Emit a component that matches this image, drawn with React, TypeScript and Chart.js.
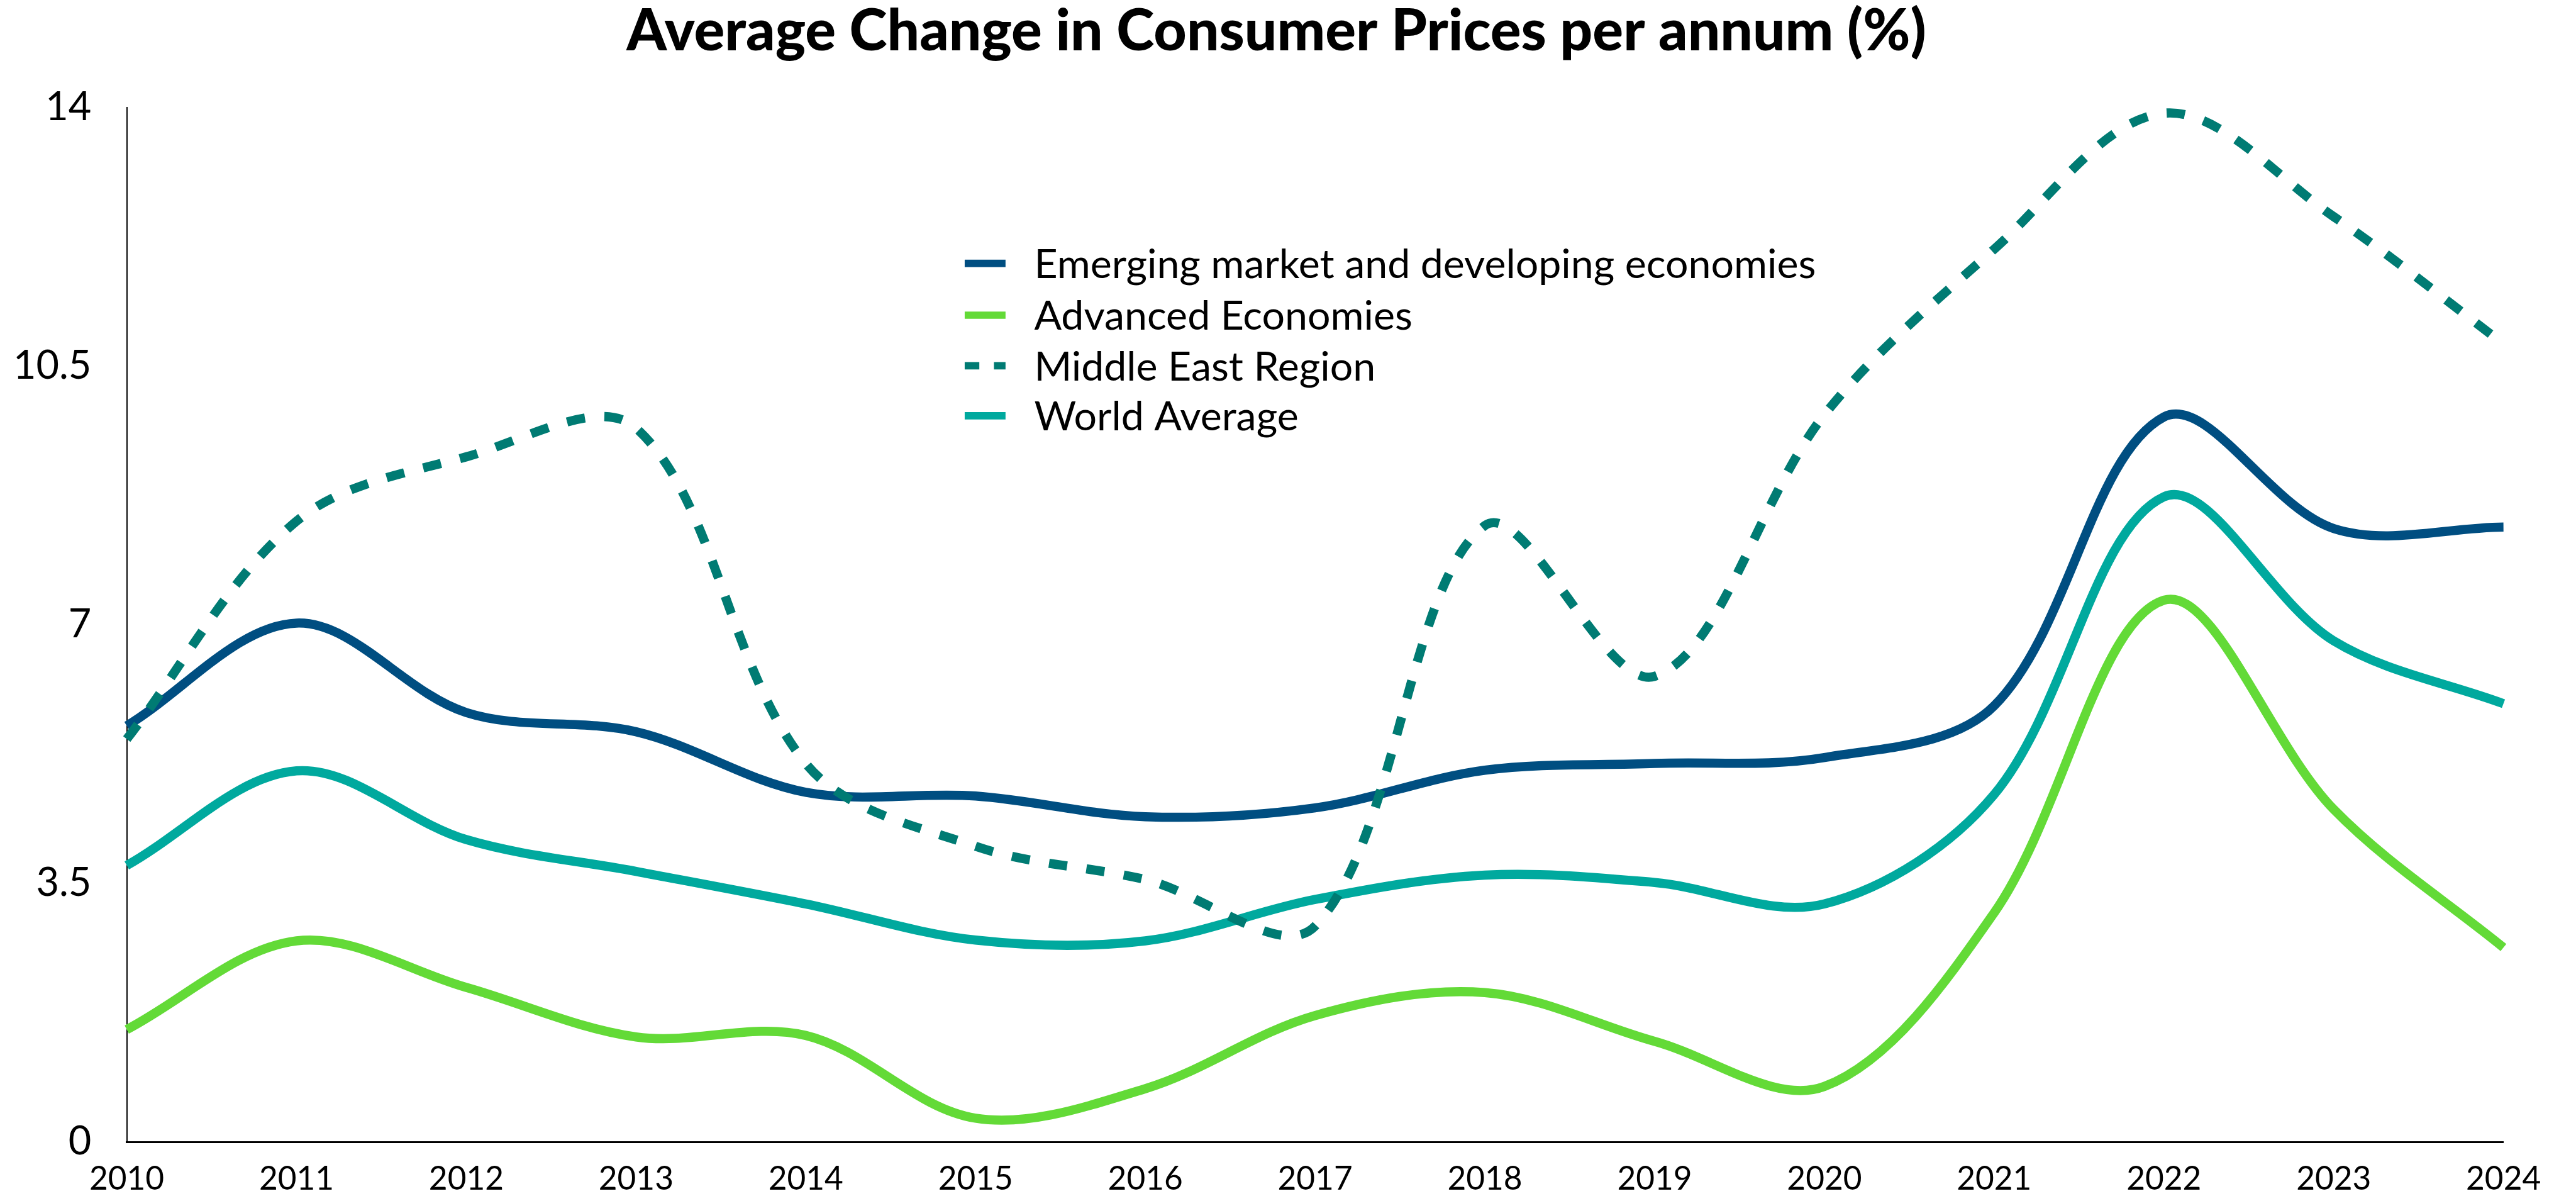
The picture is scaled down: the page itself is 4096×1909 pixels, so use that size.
import React, { useEffect, useRef } from "react";
import { Chart, registerables } from "chart.js";

Chart.register(...registerables);

const W = 4096;
const H = 1909;
const S = 0.969;

const TITLE = "Average Change in Consumer Prices per annum (%)";
const years = ["2010", "2011", "2012", "2013", "2014", "2015", "2016", "2017", "2018", "2019", "2020", "2021", "2022", "2023", "2024"];
const yTicks = [0, 3.5, 7, 10.5, 14];

const seriesNames = [
  "Emerging market and developing economies",
  "Advanced Economies",
  "Middle East Region",
  "World Average",
];
const emerging = [5.63, 7.02, 5.81, 5.55, 4.73, 4.68, 4.4, 4.52, 5.03, 5.12, 5.2, 5.9, 9.81, 8.3, 8.32];
const advanced = [1.52, 2.72, 2.09, 1.42, 1.44, 0.32, 0.72, 1.71, 2.02, 1.36, 0.75, 3.1, 7.33, 4.5, 2.63];
const middleEast = [5.45, 8.4, 9.27, 9.66, 5.12, 4.0, 3.55, 2.92, 8.34, 6.3, 9.84, 12.08, 13.92, 12.52, 10.8];
const world = [3.74, 5.02, 4.09, 3.66, 3.22, 2.73, 2.72, 3.28, 3.61, 3.51, 3.22, 4.7, 8.73, 6.78, 5.93];

const colors = ["#004E81", "#63DA37", "#007B73", "#00A99E"];
const FONT = "Lato, 'Open Sans', sans-serif";

function fitSize(ctx: CanvasRenderingContext2D, text: string, weight: string, target: number) {
  ctx.save();
  ctx.font = `${weight} 100px ${FONT}`;
  const w = ctx.measureText(text).width;
  ctx.restore();
  return (100 * target) / w;
}

const overlayPlugin = {
  id: "overlay",
  afterDraw(chart: any) {
    const ctx: CanvasRenderingContext2D = chart.ctx;
    // Title
    ctx.save();
    const tSize = fitSize(ctx, TITLE, "900", 2133 * S);
    ctx.font = `900 ${tSize}px ${FONT}`;
    ctx.fillStyle = "#000";
    ctx.textAlign = "center";
    ctx.textBaseline = "alphabetic";
    ctx.fillText(TITLE, 2094.5 * S, 83 * S);
    ctx.restore();

    // Legend
    const rows = [432, 517, 600, 682];
    const markerX = 1583 * S;
    const markerW = 67 * S;
    const markerH = 12 * S;
    const textX = 1697 * S;
    const lSize = fitSize(ctx, seriesNames[0], "400", 1283 * S);
    chart.data.datasets.forEach((ds: any, i: number) => {
      const cy = rows[i] * S;
      ctx.save();
      ctx.strokeStyle = ds.borderColor;
      ctx.lineWidth = markerH;
      ctx.lineCap = "butt";
      if (ds.borderDash && ds.borderDash.length) ctx.setLineDash([24 * S, 24 * S]);
      ctx.beginPath();
      ctx.moveTo(markerX, cy);
      ctx.lineTo(markerX + markerW, cy);
      ctx.stroke();
      ctx.restore();
      ctx.save();
      ctx.font = `400 ${lSize}px ${FONT}`;
      ctx.fillStyle = "#000";
      ctx.textAlign = "left";
      ctx.textBaseline = "alphabetic";
      ctx.fillText(ds.label, textX, cy + 24 * S);
      ctx.restore();
    });
  },
};

export default function App() {
  const ref = useRef<HTMLCanvasElement | null>(null);

  useEffect(() => {
    document.body.style.margin = "0";
    const canvas = ref.current;
    if (!canvas) return;
    const left = 208 * S;
    const right = 4108 * S;
    const top = 176 * S;
    const bottom = 1878 * S;
    const lineW = 15 * S;
    const tension = 0.34;
    const chart = new Chart(canvas, {
      type: "line",
      data: {
        labels: years,
        datasets: [
          { label: seriesNames[0], data: emerging, borderColor: colors[0], backgroundColor: colors[0], borderWidth: lineW, pointRadius: 0, tension, order: 1, borderJoinStyle: "round" },
          { label: seriesNames[1], data: advanced, borderColor: colors[1], backgroundColor: colors[1], borderWidth: lineW, pointRadius: 0, tension, order: 3, borderJoinStyle: "round" },
          { label: seriesNames[2], data: middleEast, borderColor: colors[2], backgroundColor: colors[2], borderWidth: lineW, pointRadius: 0, tension, order: 0, borderDash: [30 * S, 32 * S], borderCapStyle: "butt", borderJoinStyle: "round" },
          { label: seriesNames[3], data: world, borderColor: colors[3], backgroundColor: colors[3], borderWidth: lineW, pointRadius: 0, tension, order: 2, borderJoinStyle: "round" },
        ],
      },
      options: {
        animation: false,
        responsive: false,
        devicePixelRatio: 1,
        layout: { padding: { top: top, right: W - right, bottom: 0, left: 0 } },
        plugins: {
          legend: { display: false },
          title: { display: false },
          tooltip: { enabled: false },
        },
        scales: {
          x: {
            type: "category",
            offset: false,
            grid: { display: false, drawTicks: false },
            border: { display: true, color: "#000", width: 3 * S },
            ticks: {
              color: "#000",
              font: { family: FONT, size: 53 * S },
              padding: 30 * S,
              maxRotation: 0,
              autoSkip: false,
            },
            afterFit: (scale: any) => {
              scale.height = H - bottom;
            },
          },
          y: {
            min: 0,
            max: 14,
            grid: { display: false, drawTicks: false },
            border: { display: true, color: "#000", width: 2 * S },
            afterBuildTicks: (scale: any) => {
              scale.ticks = yTicks.map((v) => ({ value: v }));
            },
            ticks: {
              color: "#000",
              font: { family: FONT, size: 65 * S },
              padding: (208 - 150) * S,
              callback: (v: any) => String(v),
            },
            afterFit: (scale: any) => {
              scale.width = left;
            },
          },
        },
      },
      plugins: [overlayPlugin],
    });
    return () => chart.destroy();
  }, []);

  return (
    <div style={{ position: "absolute", left: 0, top: 0, width: W, height: H, background: "#fff" }}>
      <canvas ref={ref} width={W} height={H} style={{ width: W, height: H, display: "block" }} />
    </div>
  );
}
